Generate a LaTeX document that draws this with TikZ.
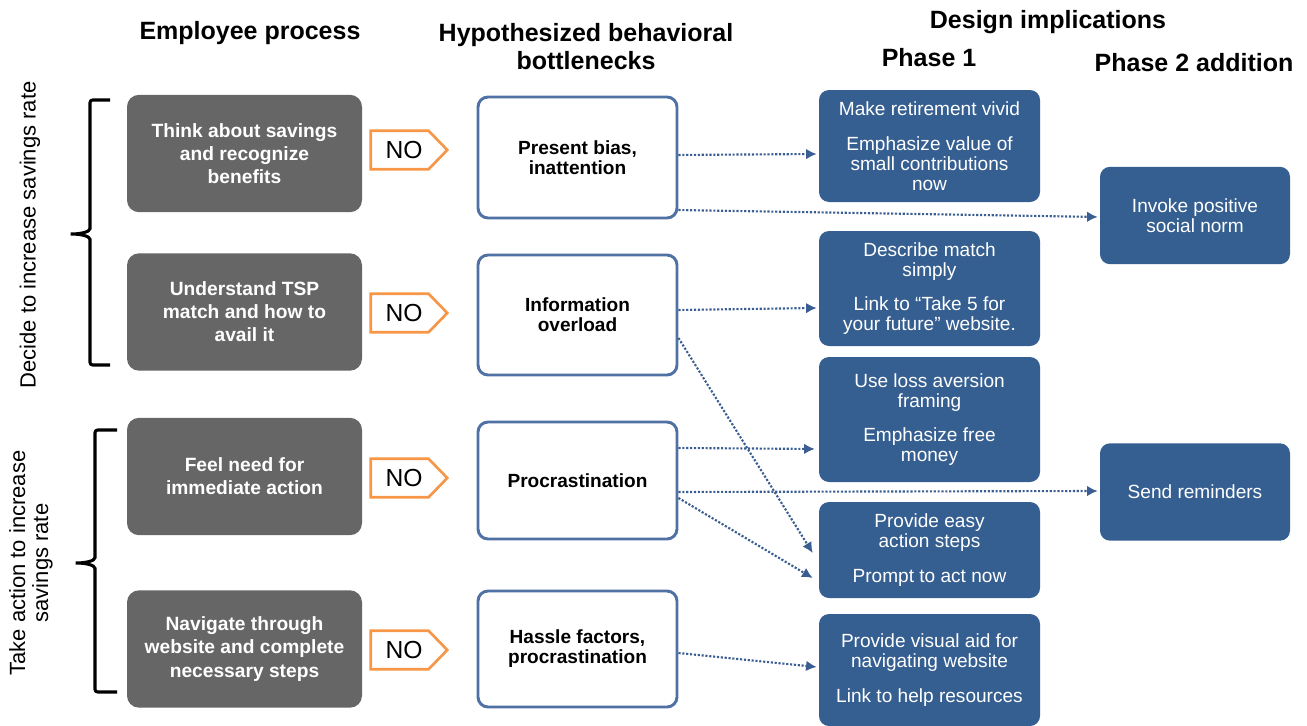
\documentclass[tikz,border=0pt]{standalone}
\usepackage{fontspec}
\setmainfont{Liberation Sans}
\usetikzlibrary{arrows.meta}
\definecolor{graybox}{HTML}{666666}
\definecolor{bluebox}{HTML}{365F91}
\definecolor{bord}{HTML}{4F71A4}
\definecolor{connc}{HTML}{3A5E91}
\definecolor{orng}{HTML}{F79646}
\begin{document}
\begin{tikzpicture}[x=0.75pt,y=-0.75pt,
  graynode/.style={fill=graybox, rounded corners=9pt, minimum width=176.25pt, minimum height=88pt,
    text=white, font=\fontsize{14.4}{17.3}\selectfont\bfseries, align=center, inner sep=0pt},
  whitenode/.style={draw=bord, line width=2.2pt, fill=white, rounded corners=7.5pt, minimum width=149.25pt,
    font=\fontsize{14.3}{15}\selectfont\bfseries, align=center, inner sep=0pt},
  bluenode/.style={fill=bluebox, rounded corners=7.5pt, minimum width=165.75pt,
    text=white, font=\fontsize{14.3}{15}\selectfont, align=center, inner sep=0pt},
  phasenode/.style={bluenode, minimum width=142.5pt, minimum height=73pt},
  nonode/.style={minimum width=57pt, minimum height=28.5pt, inner sep=0pt},
  notext/.style={inner sep=0pt, font=\fontsize{18.5}{20}\selectfont},
  noshape/.style={draw=orng, line width=2pt, line join=miter},
  header/.style={font=\fontsize{18.75}{21}\selectfont\bfseries, align=center, inner sep=0pt},
  sidelabel/.style={font=\fontsize{16.5}{17.3}\selectfont, align=center, inner sep=0pt, rotate=90},
  brc/.style={draw=black, line width=2.3pt, rounded corners=2pt},
  conn/.style={draw=connc, line width=1.6pt, dash pattern=on 1.6pt off 1.3pt, -{Latex[length=8pt,width=8pt]}}
]
\useasboundingbox (0,0) rectangle (1307,725);

% headers
\node[header] (h1) at (250,33) {Employee process};
\node[header] (h2) at (586,47) {Hypothesized behavioral\\bottlenecks};
\node[header] (h3) at (1048,22) {Design implications};
\node[header] (h4) at (929,58) {Phase 1};
\node[header] (h5) at (1194,63) {Phase 2 addition};

% gray boxes
\node[graynode] (g1) at (244.5,153.5) {Think about savings\\and recognize\\benefits};
\node[graynode] (g2) at (244.5,312) {Understand TSP\\match and how to\\avail it};
\node[graynode] (g3) at (244.5,476.5) {Feel need for\\immediate action};
\node[graynode] (g4) at (244.5,649) {Navigate through\\website and complete\\necessary steps};

% NO signs
\foreach \n/\y in {1/150,2/313,3/478,4/650}{
  \node[nonode] (no\n) at (409,\y) {};
  \draw[noshape] (no\n.north west) -- ([xshift=-14pt]no\n.north east) -- (no\n.east)
     -- ([xshift=-14pt]no\n.south east) -- (no\n.south west) -- cycle;
  \node[notext] (not\n) at (404,\y) {NO};
}

% white boxes
\node[whitenode, minimum height=90.75pt] (w1) at (577.5,157.5) {Present bias,\\inattention};
\node[whitenode, minimum height=90pt] (w2) at (577.5,315) {Information\\overload};
\node[whitenode, minimum height=87.75pt] (w3) at (577.5,480.5) {Procrastination};
\node[whitenode, minimum height=87pt] (w4) at (577.5,649) {Hassle factors,\\procrastination};

% phase 1 boxes
\node[bluenode, minimum height=84pt] (b1) at (929.5,146) {Make retirement vivid\\[11pt]Emphasize value of\\small contributions\\now};
\node[bluenode, minimum height=86.25pt] (b2) at (929.5,288.5) {Describe match\\simply\\[11pt]Link to ``Take 5 for\\your future'' website.};
\node[bluenode, minimum height=93.75pt] (b3) at (929.5,419.5) {Use loss aversion\\framing\\[11pt]Emphasize free\\money};
\node[bluenode, minimum height=72pt] (b4) at (929.5,550) {Provide easy\\action steps\\[11pt]Prompt to act now};
\node[bluenode, minimum height=84pt] (b5) at (929.5,670) {Provide visual aid for\\navigating website\\[11pt]Link to help resources};

% phase 2 boxes
\node[phasenode] (p1) at (1195,215.5) {Invoke positive\\social norm};
\node[phasenode] (p2) at (1195,492) {Send reminders};

% connectors
\draw[conn] ([yshift=1.9pt]w1.east) -- ([xshift=-1.5pt,yshift=-6pt]b1.west);
\draw[conn] ([yshift=-39.4pt]w1.east) -- ([xshift=-1.5pt,yshift=-1.1pt]p1.west);
\draw[conn] ([yshift=3.75pt]w2.east) -- ([xshift=-1.5pt,yshift=-14.6pt]b2.west);
\draw[conn] ([yshift=-17.25pt]w2.east) -- ([xshift=-4.5pt,yshift=-2.25pt]b4.west);
\draw[conn] ([yshift=24.4pt]w3.east) -- ([xshift=-3pt,yshift=-22.1pt]b3.west);
\draw[conn] ([yshift=-8.6pt]w3.east) -- ([xshift=-1.5pt,yshift=0.75pt]p2.west);
\draw[conn] ([yshift=-13.1pt]w3.east) -- ([xshift=-4.5pt,yshift=-21pt]b4.west);
\draw[conn] ([yshift=-3pt]w4.east) -- ([xshift=-1.5pt,yshift=2.25pt]b5.west);

% braces
\draw[brc] (110,100) -- (90,100) -- (90,226) .. controls (90,232) and (80,234) .. (69,234)
  .. controls (80,234) and (90,236) .. (90,242) -- (90,365) -- (110,365);
\draw[brc] (117,430) -- (95,430) -- (95,555) .. controls (95,561) and (85,563) .. (74,563)
  .. controls (85,563) and (95,565) .. (95,571) -- (95,692) -- (117,692);

% side labels
\node[sidelabel] (s1) at (30,235) {Decide to increase savings rate};
\node[sidelabel] (s2) at (31,563) {Take action to increase\\savings rate};
\end{tikzpicture}
\end{document}
